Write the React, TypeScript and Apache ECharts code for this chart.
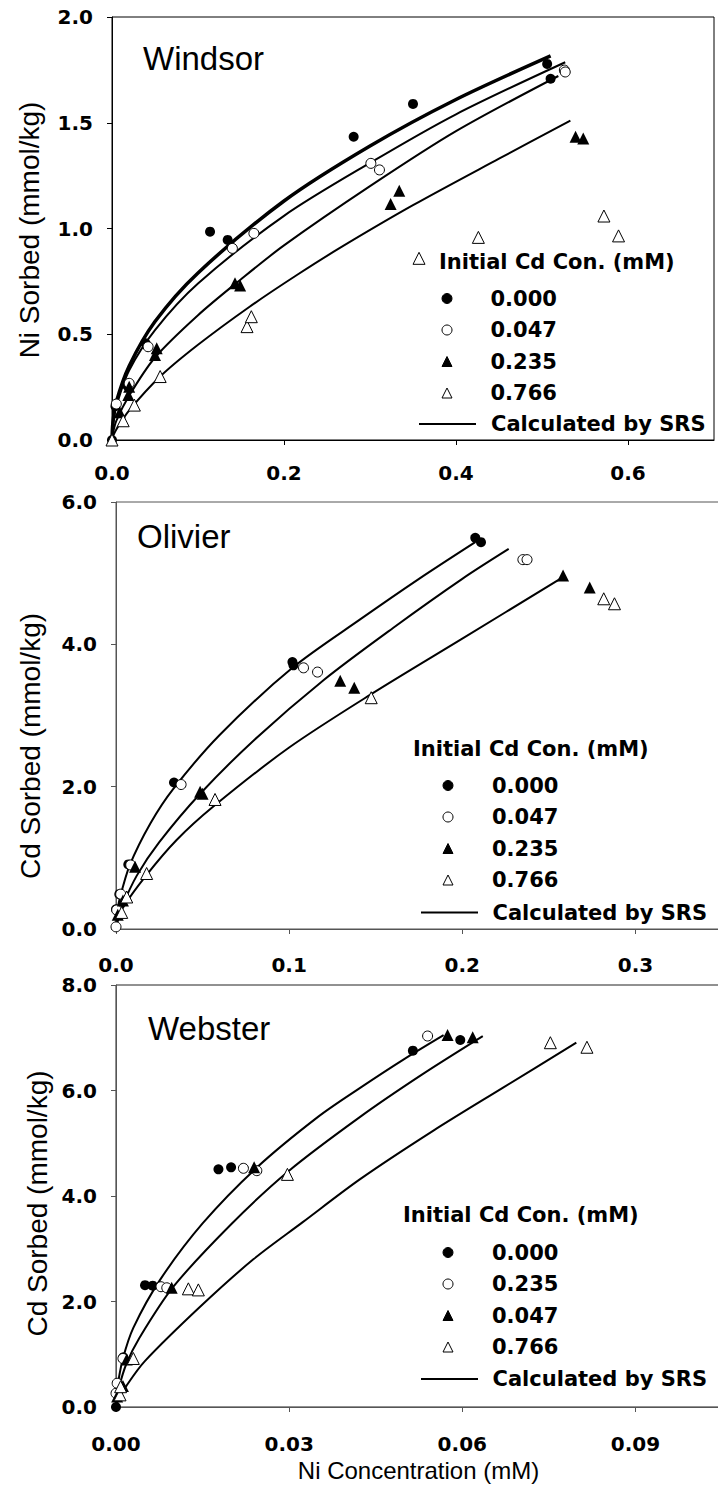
import React, { useEffect, useRef } from "react";
import * as echarts from "echarts";

const W = 718;
const H = 1487;

// ---------- Windsor (Ni sorbed) ----------
const windsor000 = [[0, 0], [0.004, 0.16], [0.018, 0.255], [0.039, 0.457], [0.114, 0.985], [0.1345, 0.946], [0.281, 1.434], [0.35, 1.589], [0.506, 1.778], [0.51, 1.708]];
const windsor047 = [[0.005, 0.17], [0.02, 0.268], [0.042, 0.441], [0.14, 0.906], [0.165, 0.977], [0.301, 1.308], [0.311, 1.277], [0.526, 1.749], [0.527, 1.74]];
const windsor235 = [[0.009, 0.131], [0.019, 0.213], [0.02, 0.252], [0.05, 0.402], [0.052, 0.434], [0.143, 0.741], [0.149, 0.73], [0.324, 1.116], [0.334, 1.179], [0.539, 1.434], [0.548, 1.426]];
const windsor766 = [[0, 0], [0.013, 0.091], [0.026, 0.165], [0.056, 0.3], [0.157, 0.536], [0.162, 0.583], [0.357, 0.859], [0.426, 0.958], [0.572, 1.059], [0.589, 0.965]];
const windsorCurveA = [[0, 0], [0.001, 0.08], [0.005, 0.18], [0.02, 0.35], [0.05, 0.56], [0.1, 0.79], [0.2, 1.13], [0.3, 1.39], [0.4, 1.61], [0.51, 1.816]];
const windsorCurveB = [[0, 0], [0.001, 0.07], [0.005, 0.16], [0.02, 0.33], [0.05, 0.52], [0.1, 0.74], [0.2, 1.06], [0.3, 1.31], [0.4, 1.54], [0.527, 1.786]];
const windsorCurveC = [[0, 0], [0.001, 0.03], [0.005, 0.09], [0.02, 0.21], [0.05, 0.39], [0.1, 0.59], [0.15, 0.76], [0.2, 0.92], [0.3, 1.2], [0.4, 1.46], [0.519, 1.721]];
const windsorCurveD = [[0, 0], [0.001, 0.016], [0.005, 0.05], [0.02, 0.14], [0.056, 0.3], [0.1, 0.45], [0.16, 0.63], [0.215, 0.78], [0.265, 0.908], [0.35, 1.11], [0.45, 1.33], [0.533, 1.51]];

// ---------- Olivier (Cd sorbed) ----------
const olivier000 = [[0, 0.276], [0.0019, 0.49], [0.0071, 0.908], [0.0335, 2.058], [0.1019, 3.75], [0.1025, 3.705], [0.2075, 5.497], [0.2108, 5.436]];
const olivier047 = [[0, 0.03], [0.0004, 0.267], [0.0027, 0.49], [0.0085, 0.9], [0.0376, 2.03], [0.1083, 3.67], [0.1164, 3.61], [0.235, 5.19], [0.2374, 5.19]];
const olivier235 = [[0.001, 0.2], [0.004, 0.4], [0.011, 0.875], [0.0486, 1.93], [0.05, 1.9], [0.1295, 3.49], [0.1376, 3.39], [0.2582, 4.968], [0.2736, 4.8]];
const olivier766 = [[0.0033, 0.233], [0.0062, 0.45], [0.0177, 0.78], [0.0572, 1.82], [0.1474, 3.25], [0.2817, 4.64], [0.2879, 4.57]];
const olivierCurve1 = [[0, 0], [0.0005, 0.19], [0.002, 0.41], [0.008, 0.9], [0.02, 1.49], [0.0331, 1.97], [0.06, 2.73], [0.1019, 3.67], [0.141, 4.35], [0.175, 4.92], [0.2075, 5.436]];
const olivierCurve2 = [[0, 0], [0.0008, 0.12], [0.003, 0.29], [0.012, 0.75], [0.025, 1.22], [0.0486, 1.9], [0.08, 2.66], [0.12, 3.5], [0.16, 4.23], [0.2, 4.92], [0.2268, 5.34]];
const olivierCurve3 = [[0, 0], [0.001, 0.11], [0.004, 0.3], [0.0177, 0.76], [0.035, 1.25], [0.0562, 1.72], [0.1, 2.55], [0.1474, 3.3], [0.2, 4.08], [0.2582, 4.944]];

// ---------- Webster (Cd sorbed) ----------
const webster000 = [[0, 0], [0.00127, 0.942], [0.00503, 2.31], [0.00636, 2.3], [0.01775, 4.506], [0.01994, 4.544], [0.05144, 6.755], [0.05965, 6.957]];
const webster235 = [[0, 0.26], [0.0002, 0.45], [0.0012, 0.92], [0.0078, 2.28], [0.0088, 2.26], [0.02208, 4.525], [0.0244, 4.48], [0.05399, 7.033]];
const webster047 = [[0.0002, 0.2], [0.0012, 0.4], [0.00185, 0.9], [0.00965, 2.26], [0.02393, 4.544], [0.05745, 7.052], [0.0618, 7.008]];
const webster766 = [[0.0007, 0.23], [0.0008, 0.385], [0.003, 0.92], [0.01254, 2.24], [0.01427, 2.22], [0.0297, 4.41], [0.07526, 6.906], [0.0816, 6.82]];
const websterCurve1 = [[0, 0], [0.0001, 0.25], [0.0003, 0.43], [0.0012, 0.92], [0.003, 1.5], [0.00763, 2.41], [0.015, 3.48], [0.0244, 4.54], [0.035, 5.5], [0.0423, 6.05], [0.05, 6.6], [0.05676, 7.05]];
const websterCurve2 = [[0, 0], [0.0001, 0.14], [0.0005, 0.37], [0.0018, 0.82], [0.004, 1.3], [0.00994, 2.28], [0.02, 3.47], [0.02988, 4.47], [0.0423, 5.5], [0.053, 6.3], [0.06355, 7.03]];
const websterCurve3 = [[0, 0], [0.0001, 0.05], [0.0005, 0.15], [0.00185, 0.41], [0.005, 0.87], [0.01457, 1.9], [0.0238, 2.8], [0.0323, 3.5], [0.0423, 4.32], [0.055, 5.24], [0.067, 6.05], [0.07976, 6.906]];

// ---------- ticks / labels ----------
const xTicks1 = [0, 0.2, 0.4, 0.6];
const xTicks2 = [0, 0.1, 0.2, 0.3];
const xTicks3 = [0, 0.03, 0.06, 0.09];
const legendTitle = "Initial Cd Con. (mM)";
const curveName = "Calculated by SRS";
const panelNames = ["Windsor", "Olivier", "Webster"];
const yTitles = ["Ni Sorbed (mmol/kg)", "Cd Sorbed (mmol/kg)", "Cd Sorbed (mmol/kg)"];
const xTitle = "Ni Concentration (mM)";
const legendOrderWO = ["0.000", "0.047", "0.235", "0.766"];
const legendOrderB = ["0.000", "0.235", "0.047", "0.766"];

const BOLD = "DejaVu Sans";
const REG = "Liberation Sans";

const filled = { color: "#000", borderColor: "#000", borderWidth: 0, opacity: 1 };
const open = { color: "#fff", borderColor: "#000", borderWidth: 1, opacity: 1 };

function scatter(name: string, idx: number, data: number[][], symbol: string, style: any, size: number) {
  return {
    type: "scatter",
    name,
    xAxisIndex: idx,
    yAxisIndex: idx,
    data,
    symbol,
    symbolSize: size,
    symbolKeepAspect: true,
    itemStyle: style,
    clip: false,
    z: 4,
    silent: true,
  };
}

function curve(name: string, idx: number, data: number[][], width: number) {
  return {
    type: "line",
    name,
    xAxisIndex: idx,
    yAxisIndex: idx,
    data,
    symbol: "none",
    showSymbol: false,
    smooth: 0.3,
    lineStyle: { color: "#000", width },
    itemStyle: { color: "#000" },
    z: 3,
    silent: true,
  };
}

function xAxis(idx: number, max: number, interval: number, ticks: number[], digits: number, margin: number, color: string) {
  return {
    type: "value",
    gridIndex: idx,
    min: 0,
    max,
    interval,
    axisLine: { show: true, onZero: false, lineStyle: { color, width: 1 } },
    axisTick: { show: true, inside: false, length: 5, lineStyle: { color }, customValues: ticks },
    axisLabel: {
      show: true,
      margin,
      customValues: ticks,
      color: "#000",
      fontFamily: BOLD,
      fontWeight: "bold",
      fontSize: 20,
      formatter: (v: number) => v.toFixed(digits),
    },
    splitLine: { show: false },
  };
}

function yAxis(idx: number, max: number, interval: number, color: string) {
  return {
    type: "value",
    gridIndex: idx,
    min: 0,
    max,
    interval,
    axisLine: { show: true, onZero: false, lineStyle: { color, width: 1 } },
    axisTick: { show: true, inside: false, length: 5, lineStyle: { color } },
    axisLabel: {
      show: true,
      margin: 19,
      color: "#000",
      fontFamily: BOLD,
      fontWeight: "bold",
      fontSize: 20,
      formatter: (v: number) => v.toFixed(1),
    },
    splitLine: { show: false },
  };
}

const legendText = { color: "#000", fontFamily: BOLD, fontWeight: "bold", fontSize: 21 };

// marker legend: icon box 10 wide, centred at iconCx; text starts at textX
function markerLegend(prefix: string, names: string[], iconCx: number, textX: number, top: number) {
  const left = iconCx - 5;
  return {
    show: true,
    orient: "vertical",
    left,
    top,
    padding: 0,
    itemWidth: 10,
    itemHeight: 10,
    itemGap: 10.5,
    selectedMode: false,
    symbolKeepAspect: true,
    data: names.map((n) => prefix + "|" + n),
    formatter: (n: string) => n.split("|")[1],
    textStyle: { ...legendText, padding: [0, 0, 0, textX - left - 15] },
    itemStyle: { borderWidth: 1 },
  };
}

function lineLegend(prefix: string, left: number, textX: number, top: number) {
  return {
    show: true,
    orient: "vertical",
    left,
    top,
    padding: 0,
    itemWidth: 57,
    itemHeight: 10,
    selectedMode: false,
    data: [{ name: prefix + "|" + curveName, itemStyle: { opacity: 0, color: "transparent", borderWidth: 0 } }],
    formatter: (n: string) => n.split("|")[1],
    textStyle: { ...legendText, padding: [0, 0, 0, textX - left - 62] },
    lineStyle: { width: 2, color: "#000" },
  };
}

function txt(text: string, x: number, y: number, fontSize: number, family: string, weight: string, align: string, rotation = 0) {
  return {
    type: "text",
    x,
    y,
    rotation,
    silent: true,
    z: 10,
    style: {
      text,
      fill: "#000",
      fontSize,
      fontFamily: family,
      fontWeight: weight,
      align,
      textAlign: align,
      verticalAlign: "middle",
      textVerticalAlign: "middle",
    },
  };
}

function buildOption() {
  const g2color = "#555";
  return {
    animation: false,
    backgroundColor: "#fff",
    grid: [
      { left: 112, top: 17, width: 602, height: 423, show: true, borderColor: "#000", borderWidth: 1, backgroundColor: "transparent", containLabel: false, outerBoundsMode: "none" },
      { left: 116, top: 502, width: 606, height: 427, show: true, borderColor: g2color, borderWidth: 1, backgroundColor: "transparent", containLabel: false, outerBoundsMode: "none" },
      { left: 116, top: 985, width: 606, height: 422, show: true, borderColor: "#222", borderWidth: 1, backgroundColor: "transparent", containLabel: false, outerBoundsMode: "none" },
    ],
    xAxis: [
      xAxis(0, 0.7, 0.2, xTicks1, 1, 23, "#000"),
      xAxis(1, 0.35, 0.1, xTicks2, 1, 26, g2color),
      xAxis(2, 0.105, 0.03, xTicks3, 2, 27, g2color),
    ],
    yAxis: [yAxis(0, 2, 0.5, "#000"), yAxis(1, 6, 2, g2color), yAxis(2, 8, 2, g2color)],
    legend: [
      markerLegend("W", legendOrderWO, 446.5, 490, 288),
      lineLegend("W", 418, 490, 413.5),
      markerLegend("O", legendOrderWO, 447.5, 491.5, 775),
      lineLegend("O", 420, 491.5, 902),
      markerLegend("B", legendOrderB, 447.5, 491.5, 1242),
      lineLegend("B", 420, 491.5, 1368.5),
    ],
    series: [
      curve("W|" + curveName, 0, windsorCurveB, 2),
      curve("W|" + curveName, 0, windsorCurveA, 3.5),
      curve("W|" + curveName, 0, windsorCurveC, 2),
      curve("W|" + curveName, 0, windsorCurveD, 2),
      scatter("W|0.000", 0, windsor000, "circle", filled, 10),
      scatter("W|0.047", 0, windsor047, "circle", open, 10),
      scatter("W|0.235", 0, windsor235, "triangle", filled, 12),
      scatter("W|0.766", 0, windsor766, "triangle", open, 12),

      curve("O|" + curveName, 1, olivierCurve1, 2),
      curve("O|" + curveName, 1, olivierCurve2, 2),
      curve("O|" + curveName, 1, olivierCurve3, 2),
      scatter("O|0.000", 1, olivier000, "circle", filled, 10),
      scatter("O|0.047", 1, olivier047, "circle", open, 10),
      scatter("O|0.235", 1, olivier235, "triangle", filled, 12),
      scatter("O|0.766", 1, olivier766, "triangle", open, 12),

      curve("B|" + curveName, 2, websterCurve1, 2),
      curve("B|" + curveName, 2, websterCurve2, 2),
      curve("B|" + curveName, 2, websterCurve3, 2),
      scatter("B|0.000", 2, webster000, "circle", filled, 10),
      scatter("B|0.235", 2, webster235, "circle", open, 10),
      scatter("B|0.047", 2, webster047, "triangle", filled, 12),
      scatter("B|0.766", 2, webster766, "triangle", open, 12),
    ],
    graphic: [
      txt(panelNames[0], 143, 58.7, 33, REG, "normal", "left"),
      txt(panelNames[1], 137, 536, 33, REG, "normal", "left"),
      txt(panelNames[2], 148, 1028.3, 33, REG, "normal", "left"),
      txt(yTitles[0], 29, 230, 28, REG, "normal", "center", Math.PI / 2),
      txt(yTitles[1], 30, 746, 28, REG, "normal", "center", Math.PI / 2),
      txt(yTitles[2], 37, 1203.5, 28, REG, "normal", "center", Math.PI / 2),
      txt(legendTitle, 439, 262, 21, BOLD, "bold", "left"),
      txt(legendTitle, 413, 748.5, 21, BOLD, "bold", "left"),
      txt(legendTitle, 403, 1214.7, 21, BOLD, "bold", "left"),
      txt(xTitle, 418.5, 1470, 24, REG, "normal", "center"),
    ],
  };
}

export default function App() {
  const ref = useRef<HTMLDivElement>(null);
  useEffect(() => {
    document.body.style.margin = "0";
    const chart = echarts.init(ref.current as HTMLDivElement, null, { renderer: "svg", width: W, height: H });
    chart.setOption(buildOption() as any);
    return () => chart.dispose();
  }, []);
  return <div ref={ref} style={{ width: W, height: H }} />;
}
